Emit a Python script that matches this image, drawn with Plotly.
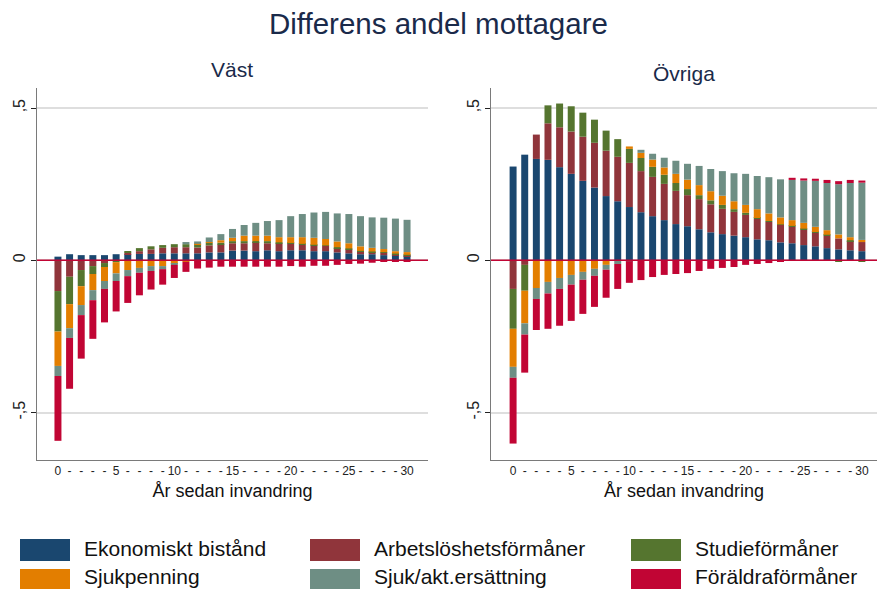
import plotly.graph_objects as go

# ---------------- data ----------------
years = list(range(31))
x_ticktext = [str(y) if y % 5 == 0 else "-" for y in years]
y_tickvals = [-0.5, 0, 0.5]
y_ticktext = ["-,5", "0", ",5"]

series_names = ["Ekonomiskt bistånd", "Arbetslöshetsförmåner", "Studieförmåner",
                "Sjukpenning", "Sjuk/akt.ersättning", "Föräldraförmåner"]
series_colors = ["#1a476f", "#90353b", "#55752f", "#e37e00", "#6e8e84", "#c10534"]

# Väst
vast_ekonomiskt = [0.012, 0.020, 0.017, 0.017, 0.017, 0.020, 0.020, 0.021, 0.021, 0.023, 0.023,
                   0.023, 0.023, 0.026, 0.026, 0.032, 0.032, 0.030, 0.033, 0.030, 0.033,
                   0.033, 0.030, 0.030, 0.026, 0.023, 0.020, 0.020, 0.017, 0.017, 0.014]
vast_arbetsloshet = [-0.101, -0.054, -0.032, -0.019, -0.009, -0.002, 0.005, 0.009, 0.015, 0.018, 0.020,
                     0.020, 0.019, 0.023, 0.026, 0.024, 0.024, 0.030, 0.023, 0.026, 0.022,
                     0.018, 0.019, 0.017, 0.014, 0.013, 0.008, 0.007, 0.008, 0.003, 0.002]
vast_studie = [-0.133, -0.090, -0.053, -0.026, -0.013, -0.004, 0.005, 0.010, 0.010, 0.009, 0.010,
               0.010, 0.011, 0.009, 0.006, 0.007, 0.007, 0.003, 0.007, 0.003, 0.002,
               0.003, 0.002, 0.002, 0.003, 0.003, 0.003, 0.002, 0.002, 0.002, 0.002]
vast_sjukpenning = [-0.113, -0.079, -0.062, -0.053, -0.046, -0.037, -0.032, -0.025, -0.019, -0.019, -0.012,
                    -0.005, 0.001, 0.002, 0.008, 0.011, 0.018, 0.018, 0.018, 0.017, 0.019,
                    0.022, 0.023, 0.021, 0.019, 0.017, 0.015, 0.012, 0.010, 0.008, 0.009]
vast_sjukakt = [-0.033, -0.032, -0.033, -0.033, -0.026, -0.025, -0.020, -0.016, -0.016, -0.010, -0.003,
                0.007, 0.008, 0.015, 0.020, 0.029, 0.035, 0.042, 0.048, 0.056, 0.069,
                0.076, 0.083, 0.089, 0.092, 0.096, 0.099, 0.100, 0.103, 0.107, 0.106]
vast_foraldra = [-0.213, -0.167, -0.143, -0.127, -0.110, -0.100, -0.088, -0.074, -0.061, -0.051, -0.043,
                 -0.033, -0.027, -0.024, -0.021, -0.021, -0.021, -0.021, -0.021, -0.021, -0.019,
                 -0.021, -0.018, -0.018, -0.015, -0.012, -0.011, -0.008, -0.005, -0.005, -0.005]

# Övriga
ovr_ekonomiskt = [0.308, 0.347, 0.333, 0.330, 0.306, 0.284, 0.261, 0.239, 0.211, 0.194, 0.175,
                  0.158, 0.145, 0.132, 0.119, 0.112, 0.102, 0.092, 0.086, 0.081, 0.076,
                  0.069, 0.066, 0.059, 0.056, 0.050, 0.046, 0.040, 0.036, 0.033, 0.030]
ovr_arbetsloshet = [-0.094, -0.015, 0.080, 0.120, 0.131, 0.139, 0.145, 0.147, 0.149, 0.146, 0.145,
                    0.135, 0.129, 0.119, 0.109, 0.102, 0.099, 0.092, 0.083, 0.078, 0.073,
                    0.067, 0.060, 0.057, 0.054, 0.051, 0.044, 0.041, 0.036, 0.030, 0.030]
ovr_studie = [-0.131, -0.085, -0.002, 0.059, 0.078, 0.083, 0.079, 0.076, 0.066, 0.058, 0.046,
              0.043, 0.033, 0.030, 0.026, 0.020, 0.013, 0.013, 0.013, 0.009, 0.007,
              0.003, 0.003, 0.002, 0.003, 0.003, 0.003, 0.003, -0.003, 0.003, -0.003]
ovr_sjukpenning = [-0.125, -0.107, -0.089, -0.071, -0.058, -0.048, -0.038, -0.028, -0.015, -0.002, 0.008,
                   0.017, 0.024, 0.024, 0.030, 0.031, 0.033, 0.030, 0.030, 0.026, 0.026,
                   0.029, 0.025, 0.023, 0.019, 0.019, 0.017, 0.015, 0.013, 0.010, 0.007]
ovr_sjukakt = [-0.036, -0.037, -0.036, -0.038, -0.036, -0.032, -0.026, -0.023, -0.016, -0.010, -0.003,
               0.010, 0.019, 0.032, 0.043, 0.052, 0.063, 0.073, 0.081, 0.092, 0.102,
               0.109, 0.119, 0.125, 0.132, 0.139, 0.151, 0.155, 0.165, 0.178, 0.188]
ovr_foraldra = [-0.216, -0.125, -0.102, -0.116, -0.121, -0.119, -0.112, -0.102, -0.092, -0.082, -0.071,
                -0.065, -0.055, -0.048, -0.045, -0.042, -0.035, -0.028, -0.025, -0.022, -0.015,
                -0.012, -0.009, -0.004, 0.007, 0.007, 0.007, 0.010, 0.010, 0.010, 0.007]

vast_series = [vast_ekonomiskt, vast_arbetsloshet, vast_studie, vast_sjukpenning, vast_sjukakt, vast_foraldra]
ovr_series = [ovr_ekonomiskt, ovr_arbetsloshet, ovr_studie, ovr_sjukpenning, ovr_sjukakt, ovr_foraldra]

# ---------------- figure ----------------
W, H = 877, 589
FONT = "Liberation Sans, Arial, sans-serif"

def px_x(p):
    return p / W

def px_y(p):
    return 1 - p / H

fig = go.Figure()
for name, color, v, o in zip(series_names, series_colors, vast_series, ovr_series):
    fig.add_trace(go.Bar(x=years, y=v, name=name, marker=dict(color=color, line=dict(width=0)),
                         width=0.6, xaxis="x", yaxis="y", showlegend=False))
    fig.add_trace(go.Bar(x=years, y=o, name=name, marker=dict(color=color, line=dict(width=0)),
                         width=0.6, xaxis="x2", yaxis="y2", showlegend=False))

y_dom = [px_y(460), px_y(88)]
common_x = dict(tickmode="array", tickvals=years, ticktext=x_ticktext, ticks="", showgrid=False,
                zeroline=False, showline=True, linecolor="#7a7a7a", linewidth=1,
                tickfont=dict(size=12, color="#222", family=FONT),
                title=dict(text="År sedan invandring", font=dict(size=18, color="#111", family=FONT),
                           standoff=6))
common_y = dict(tickmode="array", tickvals=y_tickvals, ticktext=y_ticktext, ticks="outside", ticklen=5,
                tickcolor="#222", tickangle=-90, showgrid=True, gridcolor="#dedede", gridwidth=1.5,
                zeroline=False, showline=True, linecolor="#7a7a7a", linewidth=1,
                range=[-0.656, 0.566], domain=y_dom,
                tickfont=dict(size=16, color="#222", family=FONT))

fig.update_layout(
    width=W, height=H, barmode="relative", bargap=0.4,
    margin=dict(l=0, r=0, t=0, b=0),
    paper_bgcolor="white", plot_bgcolor="white",
    font=dict(family=FONT),
    xaxis=dict(common_x, domain=[px_x(37), px_x(428)], range=[-1.8, 31.8], anchor="y"),
    yaxis=dict(common_y, anchor="x"),
    xaxis2=dict(common_x, domain=[px_x(491), 1.0], range=[-1.9, 31.3], anchor="y2"),
    yaxis2=dict(common_y, anchor="x2"),
)

# red zero lines
for xr, yr in [("x domain", "y"), ("x2 domain", "y2")]:
    fig.add_shape(type="line", xref=xr, yref=yr, x0=0, x1=1, y0=0, y1=0,
                  line=dict(color="#c10534", width=1.5), layer="above")

# titles
annotations = [
    dict(text="Differens andel mottagare", x=0.5, y=px_y(23), xref="paper", yref="paper",
         showarrow=False, font=dict(size=29.5, color="#1a2a4a", family=FONT), xanchor="center", yanchor="middle"),
    dict(text="Väst", x=(px_x(37) + px_x(428)) / 2, y=px_y(69), xref="paper", yref="paper",
         showarrow=False, font=dict(size=21, color="#1a2a4a", family=FONT), xanchor="center", yanchor="middle"),
    dict(text="Övriga", x=(px_x(491) + 1.0) / 2, y=px_y(74), xref="paper", yref="paper",
         showarrow=False, font=dict(size=21, color="#1a2a4a", family=FONT), xanchor="center", yanchor="middle"),
]

# custom legend (large swatches)
col_x = [20, 310, 631]
row_y = [539, 569]
text_y = [548, 576]
for i, (name, color) in enumerate(zip(series_names, series_colors)):
    cx = col_x[i % 3]
    ry = row_y[i // 3]
    fig.add_shape(type="rect", xref="paper", yref="paper",
                  x0=px_x(cx), x1=px_x(cx + 50), y0=px_y(ry + 22), y1=px_y(ry),
                  fillcolor=color, line=dict(width=0))
    annotations.append(dict(text=name, x=px_x(cx + 62), y=px_y(text_y[i // 3]), xref="paper", yref="paper",
                            showarrow=False, xanchor="left", yanchor="middle",
                            font=dict(size=21, color="#111", family=FONT)))

fig.update_layout(annotations=annotations)
fig.write_html("out.html", config={"displayModeBar": False},
               post_script="document.body.style.margin='0';document.body.style.overflow='hidden';")
